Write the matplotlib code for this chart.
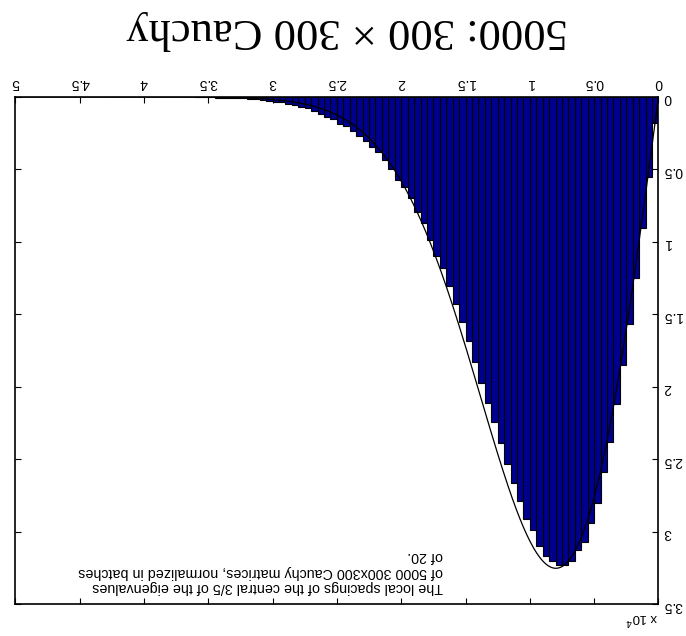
import numpy as np
import matplotlib
matplotlib.use("Agg")
import matplotlib.pyplot as plt

# Histogram of normalized local eigenvalue spacings (bin width 0.05)
bin_width = 0.05
spacing_counts = [
    1820, 5500, 9060, 12500, 15700, 18500, 21200, 23800, 25900, 28000,
    29400, 30700, 31300, 32000, 32300, 32300, 32000, 31700, 31000, 29900,
    29100, 27860, 26670, 25350, 23860, 22430, 21140, 19760, 18310, 16820,
    15550, 14310, 13020, 11800, 11000, 9900, 8720, 7910, 6990, 6230,
    5730, 4990, 4370, 3820, 3430, 3010, 2720, 2320, 1980, 1840,
    1520, 1360, 1150, 970, 780, 670, 550, 480, 370, 320,
    250, 200, 170, 140, 100, 80, 70, 50, 40, 30,
    20, 10,
]
# Expected count per bin under the Wigner surmise, scaled to the histogram
surmise_scale = 42800

x_ticks = [0, 0.5, 1, 1.5, 2, 2.5, 3, 3.5, 4, 4.5, 5]
x_tick_labels = ["0", "0.5", "1", "1.5", "2", "2.5", "3", "3.5", "4", "4.5", "5"]
y_ticks = [0, 5000, 10000, 15000, 20000, 25000, 30000, 35000]
y_tick_labels = ["0", "0.5", "1", "1.5", "2", "2.5", "3", "3.5"]

title_text = "5000: 300 \u00d7 300 Cauchy"
note_text = ("The local spacings of the central 3/5 of the eigenvalues\n"
             "of 5000 300x300 Cauchy matrices, normalized in batches\n"
             "of 20.")

plt.rcParams["font.family"] = ["Liberation Sans", "DejaVu Sans"]

fig = plt.figure(figsize=(6.86, 6.36), dpi=100)
ax = fig.add_axes([0.0223, 0.0503, 0.9376, 0.7972])

counts = np.asarray(spacing_counts, dtype=float)
bin_starts = np.arange(len(counts)) * bin_width
ax.bar(bin_starts, counts, width=bin_width, align="edge",
       color="#00008f", edgecolor="black", linewidth=0.8)

s = np.linspace(0, 5, 600)
wigner = (np.pi / 2) * s * np.exp(-np.pi * s ** 2 / 4)
ax.plot(s, surmise_scale * wigner, color="black", linewidth=0.9)

ax.set_xlim(5, 0)
ax.set_ylim(35000, 0)

ax.set_xticks(x_ticks)
ax.set_xticklabels(x_tick_labels)
ax.set_yticks(y_ticks)
ax.set_yticklabels(y_tick_labels)

ax.tick_params(axis="both", direction="in", length=4, width=0.8,
               top=True, bottom=True, left=True, right=True,
               labeltop=True, labelbottom=False,
               labelright=True, labelleft=False,
               labelrotation=180, labelsize=10)
ax.tick_params(axis="x", pad=5)
ax.tick_params(axis="y", pad=3.5)

for spine in ax.spines.values():
    spine.set_linewidth(1.2)

# Exponent marker for the count axis
ax.text(1.0, -0.011, r"x 10$^4$", transform=ax.transAxes, rotation=180,
        ha="right", va="top", fontsize=9.5)

# Description of the data set
ax.text(0.665, 0.019, note_text, transform=ax.transAxes, rotation=180,
        ha="right", va="bottom", multialignment="left", fontsize=10.3,
        linespacing=1.15)

fig.text(347.5 / 686, 1 - 30 / 636, title_text, rotation=180,
         ha="center", va="center", fontsize=32,
         family=["Liberation Serif", "DejaVu Serif"])

fig.savefig("out.png", dpi=100)
